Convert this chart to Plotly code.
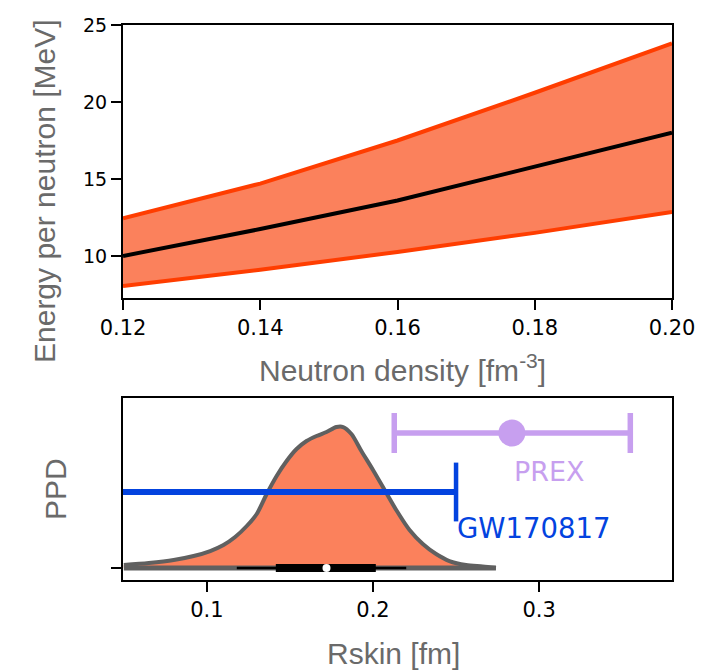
import plotly.graph_objects as go

# ---- top panel data: energy per neutron vs neutron density ----
density = [0.12, 0.14, 0.16, 0.18, 0.20]
energy_median = [10.0, 11.75, 13.6, 15.8, 18.0]
energy_upper = [12.45, 14.7, 17.5, 20.6, 23.8]
energy_lower = [8.05, 9.1, 10.26, 11.5, 12.86]

# ---- bottom panel data: posterior predictive density of R_skin ----
rskin_grid = [0.05, 0.065, 0.080, 0.092, 0.102, 0.110, 0.117, 0.124, 0.130, 0.136,
              0.142, 0.148, 0.154, 0.160, 0.166, 0.172, 0.178, 0.182, 0.187, 0.193,
              0.200, 0.207, 0.214, 0.222, 0.230, 0.238, 0.246, 0.256, 0.266, 0.274]
ppd_density = [3, 5, 8, 12, 17, 23, 31, 42, 54, 74,
               92, 107, 119, 127, 132, 136, 141, 141, 134, 117,
               98, 78, 58, 38, 24, 14, 7, 3, 1.5, 0]
rskin_whisker = [0.118, 0.220]
rskin_quartiles = [0.1415, 0.2017]
rskin_median = 0.172

gw_upper = 0.25
gw_level = 76
prex_center = 0.2836
prex_minus = 0.0708
prex_plus = 0.0713
prex_level = 135

CORAL = "#fb815c"
EDGE = "#ff3d00"
GRAY = "#606060"
BLUE = "#0343df"
LAV = "#c79fef"
LABEL_GRAY = "#6a6a6a"

fig = go.Figure()

# top panel band
fig.add_trace(go.Scatter(x=density, y=energy_lower, mode="lines",
                         line=dict(color=EDGE, width=4), xaxis="x", yaxis="y",
                         showlegend=False))
fig.add_trace(go.Scatter(x=density, y=energy_upper, mode="lines", fill="tonexty",
                         fillcolor=CORAL, line=dict(color=EDGE, width=4),
                         xaxis="x", yaxis="y", showlegend=False))
fig.add_trace(go.Scatter(x=density, y=energy_median, mode="lines",
                         line=dict(color="black", width=4), xaxis="x", yaxis="y",
                         showlegend=False))

# bottom panel: half violin
fig.add_trace(go.Scatter(x=rskin_grid, y=ppd_density, mode="lines", fill="tozeroy",
                         fillcolor=CORAL, line=dict(color=GRAY, width=4, shape="spline",
                                                    smoothing=0.8),
                         xaxis="x2", yaxis="y2", showlegend=False))
fig.add_trace(go.Scatter(x=[rskin_grid[0], rskin_grid[-1]], y=[0, 0], mode="lines",
                         line=dict(color=GRAY, width=5), xaxis="x2", yaxis="y2",
                         showlegend=False))
fig.add_trace(go.Scatter(x=rskin_whisker, y=[0, 0], mode="lines",
                         line=dict(color="black", width=2.5), xaxis="x2", yaxis="y2",
                         showlegend=False))
fig.add_trace(go.Scatter(x=rskin_quartiles, y=[0, 0], mode="lines",
                         line=dict(color="black", width=8), xaxis="x2", yaxis="y2",
                         showlegend=False))
fig.add_trace(go.Scatter(x=[rskin_median], y=[0], mode="markers",
                         marker=dict(color="white", size=8), xaxis="x2", yaxis="y2",
                         showlegend=False))

# GW170817 upper limit
fig.add_trace(go.Scatter(x=[0.0, gw_upper], y=[gw_level, gw_level], mode="lines",
                         line=dict(color=BLUE, width=6), xaxis="x2", yaxis="y2",
                         showlegend=False))
fig.add_trace(go.Scatter(x=[gw_upper], y=[gw_level], mode="markers",
                         marker=dict(symbol="line-ns", size=42,
                                     line=dict(color=BLUE, width=4.5)),
                         xaxis="x2", yaxis="y2", showlegend=False))

# PREX
fig.add_trace(go.Scatter(x=[prex_center], y=[prex_level], mode="markers",
                         marker=dict(color=LAV, size=27),
                         error_x=dict(type="data", symmetric=False, array=[prex_plus],
                                      arrayminus=[prex_minus], color=LAV, thickness=5.5,
                                      width=20),
                         xaxis="x2", yaxis="y2", showlegend=False))

xtickfont = dict(family="DejaVu Sans", size=21, color="black")
ytickfont = dict(family="DejaVu Sans", size=19, color="black")
axis_common = dict(showline=True, linecolor="black", linewidth=2, mirror=True,
                   ticks="outside", ticklen=10, tickwidth=2, tickcolor="black",
                   showgrid=False, zeroline=False)

fig.update_layout(
    width=726, height=670,
    margin=dict(l=123, r=54, t=25, b=90),
    plot_bgcolor="white", paper_bgcolor="white",
    xaxis=dict(domain=[0, 1], range=[0.12, 0.20], tickvals=[0.12, 0.14, 0.16, 0.18, 0.20],
               ticktext=["0.12", "0.14", "0.16", "0.18", "0.20"], anchor="y",
               tickfont=xtickfont, **axis_common),
    yaxis=dict(domain=[0.5081, 1], range=[7.27, 25], tickvals=[10, 15, 20, 25],
               anchor="x", tickfont=ytickfont, **axis_common),
    xaxis2=dict(domain=[0, 1], range=[0.0495, 0.380], tickvals=[0.1, 0.2, 0.3],
                ticktext=["0.1", "0.2", "0.3"], anchor="y2", tickfont=xtickfont,
                **axis_common),
    yaxis2=dict(domain=[0, 0.3279], range=[-12, 170], tickvals=[0], ticktext=[""],
                anchor="x2", tickfont=ytickfont, **axis_common),
)

lab = dict(family="Liberation Sans", size=30, color=LABEL_GRAY)
annotations = [
    dict(text="Energy per neutron [MeV]", x=44, y=670 - 191, textangle=-90, font=lab),
    dict(text="Neutron density [fm<sup>-3</sup>]", x=402, y=670 - 368, font=lab),
    dict(text="PPD", x=55, y=670 - 489, textangle=-90, font=lab),
    dict(text="Rskin [fm]", x=393, y=670 - 653, font=lab),
]
# convert pixel positions to paper coords
pw, ph = 726 - 123 - 54, 670 - 25 - 90
for a in annotations:
    a["x"] = (a["x"] - 123) / pw
    a["y"] = (a["y"] - 90) / ph
    a["xref"] = "paper"
    a["yref"] = "paper"
    a["xanchor"] = "center"
    a["yanchor"] = "middle"
    a["showarrow"] = False

annotations += [
    dict(text="GW170817", x=0.2495, y=40, xref="x2", yref="y2", xanchor="left",
         yanchor="middle", showarrow=False,
         font=dict(family="DejaVu Sans", size=27.5, color=BLUE)),
    dict(text="PREX", x=0.306, y=97, xref="x2", yref="y2", xanchor="center",
         yanchor="middle", showarrow=False,
         font=dict(family="DejaVu Sans", size=27, color=LAV)),
]
fig.update_layout(annotations=annotations)

fig.write_html("out.html")
